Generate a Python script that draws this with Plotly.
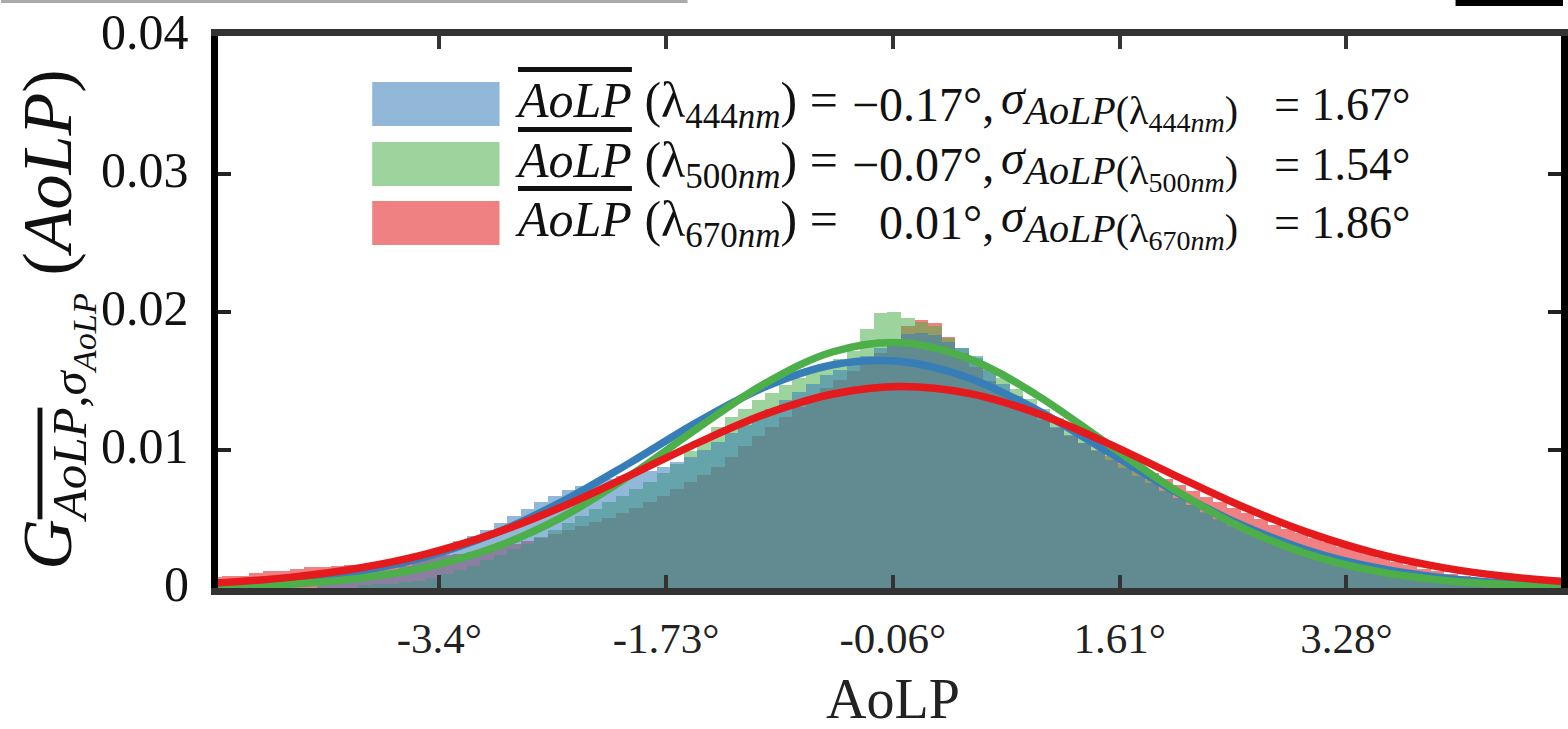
import plotly.graph_objects as go

# ---------------- data ----------------
bin_width = 0.1

red_first_center = -5.05
red_hist = [
    0.0008, 0.0009, 0.0009, 0.0011, 0.0012, 0.0012, 0.0014, 0.0015, 0.0015, 0.0016,
    0.0017, 0.0017, 0.0018, 0.0019, 0.0020, 0.0021, 0.0023, 0.0024, 0.0025, 0.0026,
    0.0028, 0.0030, 0.0032, 0.0034, 0.0036, 0.0039, 0.0042, 0.0045, 0.0048, 0.0051,
    0.0054, 0.0058, 0.0062, 0.0067, 0.0072, 0.0077, 0.0082, 0.0088, 0.0095, 0.0103,
    0.0110, 0.0117, 0.0124, 0.0131, 0.0138, 0.0145, 0.0151, 0.0157, 0.0163, 0.0170,
    0.0180, 0.0190, 0.0194, 0.0192, 0.0182, 0.0170, 0.0160, 0.0150, 0.0142, 0.0135,
    0.0128, 0.0122, 0.0116, 0.0110, 0.0105, 0.0100, 0.0096, 0.0092, 0.0088, 0.0083,
    0.0079, 0.0075, 0.0070, 0.0066, 0.0062, 0.0058, 0.0054, 0.0050, 0.0046, 0.0043,
    0.0040, 0.0036, 0.0033, 0.0030, 0.0028, 0.0025, 0.0022, 0.0019, 0.0017, 0.0014,
    0.0012, 0.0010, 0.0009, 0.0007, 0.0006, 0.0005, 0.0004, 0.0003, 0.0003, 0.0002,
]

green_first_center = -3.95
green_hist = [
    0.0002, 0.0003, 0.0003, 0.0004, 0.0005, 0.0007, 0.0010, 0.0013, 0.0016, 0.0020,
    0.0024, 0.0028, 0.0032, 0.0037, 0.0042, 0.0047, 0.0052, 0.0057, 0.0062, 0.0067,
    0.0072, 0.0077, 0.0083, 0.0090, 0.0099, 0.0108, 0.0117, 0.0124, 0.0130, 0.0136,
    0.0141, 0.0147, 0.0152, 0.0157, 0.0162, 0.0166, 0.0172, 0.0188, 0.0199, 0.0200,
    0.0196, 0.0193, 0.0190, 0.0181, 0.0174, 0.0167, 0.0160, 0.0152, 0.0144, 0.0137,
    0.0130, 0.0123, 0.0117, 0.0110, 0.0104, 0.0097, 0.0090, 0.0084, 0.0078, 0.0071,
    0.0065, 0.0060, 0.0054, 0.0049, 0.0044, 0.0040, 0.0036, 0.0032, 0.0028, 0.0025,
    0.0022, 0.0019, 0.0017, 0.0015, 0.0013, 0.0011, 0.0009, 0.0008, 0.0007, 0.0006,
    0.0005, 0.0004, 0.0003,
]

blue_first_center = -4.25
blue_hist = [
    0.0003, 0.0004, 0.0005, 0.0006, 0.0009, 0.0012, 0.0016, 0.0020, 0.0025, 0.0030,
    0.0034, 0.0038, 0.0042, 0.0047, 0.0052, 0.0057, 0.0062, 0.0067, 0.0071, 0.0074,
    0.0077, 0.0079, 0.0081, 0.0083, 0.0085, 0.0088, 0.0091, 0.0095, 0.0100, 0.0106,
    0.0112, 0.0118, 0.0124, 0.0130, 0.0136, 0.0142, 0.0148, 0.0154, 0.0158, 0.0163,
    0.0168, 0.0174, 0.0180, 0.0184, 0.0185, 0.0183, 0.0178, 0.0174, 0.0168, 0.0158,
    0.0148, 0.0139, 0.0131, 0.0124, 0.0117, 0.0111, 0.0105, 0.0099, 0.0093, 0.0087,
    0.0081, 0.0076, 0.0070, 0.0065, 0.0060, 0.0055, 0.0050, 0.0046, 0.0042, 0.0038,
    0.0034, 0.0031, 0.0028, 0.0025, 0.0022, 0.0019, 0.0017, 0.0015, 0.0013, 0.0011,
    0.0010, 0.0008, 0.0007, 0.0006, 0.0005, 0.0004, 0.0003, 0.0002,
]

# fitted Gaussian curves, sampled every 0.5 deg
curve_x = [-5.5, -5.0, -4.5, -4.0, -3.5, -3.0, -2.5, -2.0, -1.5, -1.0, -0.5,
           0.0, 0.5, 1.0, 1.5, 2.0, 2.5, 3.0, 3.5, 4.0, 4.5, 5.0]
blue_fit = [0.00010, 0.00025, 0.00057, 0.00119, 0.00226, 0.00393, 0.00624, 0.00905,
            0.01202, 0.01458, 0.01618, 0.01641, 0.01522, 0.01291, 0.01001, 0.00709,
            0.00460, 0.00272, 0.00147, 0.00073, 0.00033, 0.00014]
green_fit = [0.00004, 0.00011, 0.00028, 0.00069, 0.00149, 0.00291, 0.00512, 0.00812,
             0.01157, 0.01483, 0.01712, 0.01778, 0.01662, 0.01398, 0.01059, 0.00721,
             0.00442, 0.00244, 0.00121, 0.00054, 0.00022, 0.00008]
red_fit = [0.00018, 0.00039, 0.00077, 0.00143, 0.00246, 0.00394, 0.00587, 0.00814,
           0.01050, 0.01260, 0.01406, 0.01460, 0.01410, 0.01267, 0.01059, 0.00824,
           0.00596, 0.00401, 0.00251, 0.00146, 0.00079, 0.00040]

x_tickvals = [-3.4, -1.73, -0.06, 1.61, 3.28]
x_ticktext = ["-3.4°", "-1.73°", "-0.06°", "1.61°", "3.28°"]
y_tickvals = [0, 0.01, 0.02, 0.03, 0.04]
y_ticktext = ["0", "0.01", "0.02", "0.03", "0.04"]

wavelengths = ["444", "500", "670"]
mean_text = ["−0.17°,", "−0.07°,", "0.01°,"]
sigma_text = ["1.67°", "1.54°", "1.86°"]

# ---------------- styling ----------------
W, H = 1568, 729
L, R, T, B = 218, 0, 36, 141
X_RANGE = [-5.03, 4.86]
FONT = "Liberation Serif"

BLUE, GREEN, RED = "#377eb8", "#4daf4a", "#e41a1c"
ALPHA = 0.55


def rgba(hexcol, a):
    h = hexcol.lstrip("#")
    return "rgba(%d,%d,%d,%.2f)" % (int(h[0:2], 16), int(h[2:4], 16), int(h[4:6], 16), a)


def centers(first, n):
    return [round(first + i * bin_width, 4) for i in range(n)]


def px_x(px):
    return (px - L) / (W - L - R)


def px_y(py):
    return (H - B - py) / (H - T - B)


fig = go.Figure()

# histograms (red first, then green, then blue, as in the picture)
for vals, first, col in [(red_hist, red_first_center, RED),
                         (green_hist, green_first_center, GREEN),
                         (blue_hist, blue_first_center, BLUE)]:
    fig.add_trace(go.Bar(x=centers(first, len(vals)), y=vals, width=bin_width,
                         marker=dict(color=rgba(col, ALPHA), line=dict(width=0)),
                         showlegend=False, hoverinfo="skip"))

# fitted curves
for vals, col in [(blue_fit, BLUE), (green_fit, GREEN), (red_fit, RED)]:
    fig.add_trace(go.Scatter(x=curve_x, y=vals, mode="lines",
                             line=dict(color=col, width=7.5, shape="spline", smoothing=1.0),
                             showlegend=False, hoverinfo="skip"))

fig.update_layout(
    width=W, height=H,
    margin=dict(l=L, r=R, t=T, b=B, pad=0),
    paper_bgcolor="white", plot_bgcolor="white",
    barmode="overlay", bargap=0,
    showlegend=False,
    font=dict(family=FONT, color="#111"),
)

fig.update_xaxes(range=X_RANGE, tickvals=x_tickvals, ticktext=x_ticktext,
                 ticks="inside", ticklen=13, tickwidth=4, tickcolor="#333",
                 showline=True, linecolor="#333", linewidth=7, mirror="ticks",
                 showgrid=False, zeroline=False,
                 tickfont=dict(family=FONT, size=43, color="#222"),
                 ticklabelstandoff=6)
fig.update_yaxes(range=[0, 0.04], tickvals=y_tickvals, ticktext=y_ticktext,
                 showticklabels=False,
                 ticks="inside", ticklen=13, tickwidth=4, tickcolor="#222",
                 showline=True, linecolor="#000", linewidth=7, mirror="ticks",
                 showgrid=False, zeroline=False)

OL = "<span style='text-decoration:overline'><i>AoLP</i></span>"
annotations = []
shapes = []

# y tick labels (sit a few pixels above their ticks, as in the picture)
for v, t in zip(y_tickvals, y_ticktext):
    annotations.append(dict(xref="paper", yref="y", x=px_x(191), y=v, yshift=4,
                            xanchor="right", yanchor="middle", showarrow=False, text=t,
                            font=dict(family=FONT, size=50, color="#111")))

# manual legend (big colour patches + mathematical labels)
row_centers = [104, 164, 223]
for k, (col, wl) in enumerate(zip([BLUE, GREEN, RED], wavelengths)):
    yc = row_centers[k]
    shapes.append(dict(type="rect", xref="paper", yref="paper",
                       x0=px_x(373), x1=px_x(501), y0=px_y(yc + 22), y1=px_y(yc - 22),
                       fillcolor=rgba(col, ALPHA), line=dict(width=0), layer="above"))
    common = dict(xref="paper", yref="paper", showarrow=False, yanchor="middle")
    annotations.append(dict(common, x=px_x(515), y=px_y(yc), xanchor="left",
                            font=dict(family=FONT, size=50, color="#111"),
                            text=OL + " (λ<sub>" + wl + "<i>nm</i></sub>) ="))
    annotations.append(dict(common, x=px_x(1000), y=px_y(yc), xanchor="right",
                            font=dict(family=FONT, size=48, color="#111"),
                            text=mean_text[k]))
    annotations.append(dict(common, x=px_x(1003), y=px_y(yc), xanchor="left",
                            font=dict(family=FONT, size=48, color="#111"),
                            text="<i>σ</i><sub><span style='font-size:40px'><i>AoLP</i>(λ<sub>"
                                 + wl + "<i>nm</i></sub>)</span></sub>"))
    annotations.append(dict(common, x=px_x(1418), y=px_y(yc), xanchor="right",
                            font=dict(family=FONT, size=46, color="#111"),
                            text="= " + sigma_text[k]))

# axis titles
annotations.append(dict(xref="paper", yref="paper", showarrow=False,
                        x=px_x(897), y=px_y(699), xanchor="center", yanchor="middle",
                        text="AoLP", font=dict(family=FONT, size=56, color="#222")))
annotations.append(dict(xref="paper", yref="paper", showarrow=False, textangle=-90,
                        x=px_x(55), y=px_y(320), xanchor="center", yanchor="middle",
                        text="<i>G</i><sub>" + OL + ",<i>σ</i><sub><i>AoLP</i></sub></sub> (<i>AoLP</i>)",
                        font=dict(family=FONT, size=70, color="#111")))

# crop artefacts at the top edge of the picture
shapes.append(dict(type="line", xref="paper", yref="paper",
                   x0=px_x(0), x1=px_x(690), y0=px_y(1.5), y1=px_y(1.5),
                   line=dict(color="#aaaaaa", width=3), layer="above"))
shapes.append(dict(type="rect", xref="paper", yref="paper",
                   x0=px_x(1462), x1=px_x(1570), y0=px_y(6), y1=px_y(-2),
                   fillcolor="#000", line=dict(width=0), layer="above"))

fig.update_layout(annotations=annotations, shapes=shapes)

fig.write_html("out.html",
               config={"displayModeBar": False},
               post_script="document.body.style.margin='0px';"
                           "document.body.style.overflow='hidden';")
